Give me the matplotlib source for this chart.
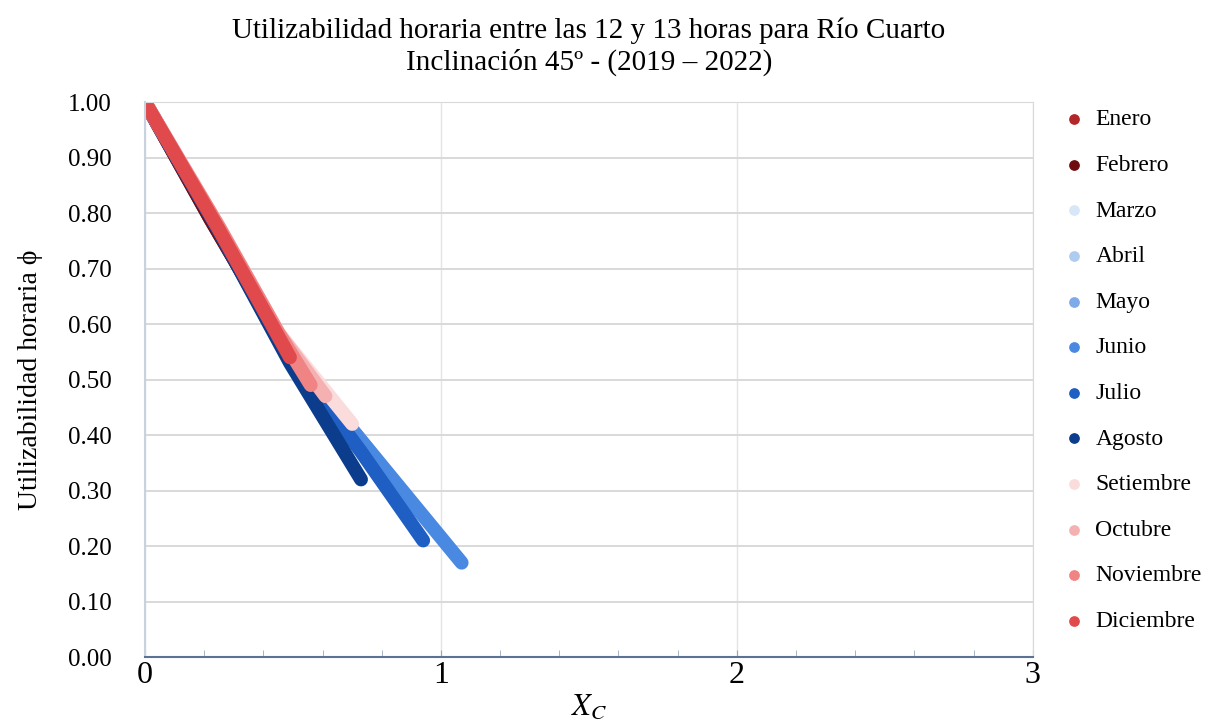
import numpy as np
import matplotlib
matplotlib.use("Agg")
import matplotlib.pyplot as plt
from matplotlib.ticker import MultipleLocator

plt.rcParams['font.family'] = ['Liberation Serif', 'DejaVu Serif']
plt.rcParams['mathtext.fontset'] = 'stix'

months = ["Enero", "Febrero", "Marzo", "Abril", "Mayo", "Junio", "Julio",
          "Agosto", "Setiembre", "Octubre", "Noviembre", "Diciembre"]
colors = ["#b3262a", "#6e0b0e", "#d8e7f8", "#aecbf0", "#7eaaea", "#4a89e2",
          "#1f5ec2", "#0b3d8c", "#fbdcdd", "#f5b1b1", "#f08383", "#e04a4c"]

# Xc and phi readings per month (points along each band)
xc = {
    "Enero":     [0.00, 0.22, 0.45],
    "Febrero":   [0.00, 0.22, 0.44],
    "Marzo":     [0.00, 0.25, 0.45, 0.60],
    "Abril":     [0.00, 0.25, 0.45, 0.62],
    "Mayo":      [0.00, 0.25, 0.45, 0.70, 0.85],
    "Junio":     [0.00, 0.25, 0.45, 0.70, 1.07],
    "Julio":     [0.00, 0.25, 0.45, 0.73, 0.94],
    "Agosto":    [0.00, 0.25, 0.49, 0.73],
    "Setiembre": [0.00, 0.25, 0.45, 0.70],
    "Octubre":   [0.00, 0.25, 0.45, 0.61],
    "Noviembre": [0.00, 0.25, 0.45, 0.56],
    "Diciembre": [0.00, 0.25, 0.49],
}
phi = {
    "Enero":     [1.00, 0.79, 0.58],
    "Febrero":   [1.00, 0.79, 0.59],
    "Marzo":     [1.00, 0.77, 0.58, 0.48],
    "Abril":     [1.00, 0.77, 0.58, 0.47],
    "Mayo":      [1.00, 0.77, 0.58, 0.41, 0.31],
    "Junio":     [1.00, 0.77, 0.58, 0.41, 0.17],
    "Julio":     [1.00, 0.768, 0.572, 0.37, 0.21],
    "Agosto":    [1.00, 0.767, 0.53, 0.32],
    "Setiembre": [1.00, 0.775, 0.585, 0.42],
    "Octubre":   [1.00, 0.775, 0.585, 0.47],
    "Noviembre": [1.00, 0.775, 0.585, 0.49],
    "Diciembre": [1.00, 0.77, 0.54],
}

fig = plt.figure(figsize=(12.08, 7.24), dpi=100)
ax = fig.add_axes([0.12, 0.0925, 0.735, 0.7665])

for m, c in zip(months, colors):
    ax.plot(xc[m], phi[m], color=c, lw=10, solid_capstyle='round',
            solid_joinstyle='round')
    # legend handle
    ax.scatter([], [], s=45, color=c, label=m)

ax.set_xlim(0, 3)
ax.set_ylim(0, 1)
ax.xaxis.set_major_locator(MultipleLocator(1))
ax.xaxis.set_minor_locator(MultipleLocator(0.2))
ax.yaxis.set_major_locator(MultipleLocator(0.1))
ax.yaxis.set_major_formatter(matplotlib.ticker.FormatStrFormatter('%.2f'))

ax.grid(True, axis='y', color='#d9d9d9', lw=1.4)
ax.grid(True, axis='x', color='#e2e5ea', lw=1.0)
ax.set_axisbelow(True)

for s in ['top', 'right']:
    ax.spines[s].set_color('#d9d9d9')
ax.spines['left'].set_color('#c9d2de')
ax.spines['left'].set_linewidth(1.5)
ax.spines['bottom'].set_color('#5b7294')
ax.spines['bottom'].set_linewidth(1.5)

ax.tick_params(axis='x', which='both', direction='in', color='#9aa8bd',
               labelsize=23, pad=3)
ax.tick_params(axis='x', which='major', length=5)
ax.tick_params(axis='x', which='minor', length=5)
ax.tick_params(axis='y', length=0, labelsize=18, pad=24)

ax.set_xlabel(r"$X_C$", fontsize=22, labelpad=2)
ax.set_ylabel("Utilizabilidad horaria ϕ", fontsize=20, labelpad=18)
ax.set_title("Utilizabilidad horaria entre las 12 y 13 horas para Río Cuarto\n"
             "Inclinación 45º - (2019 – 2022)", fontsize=21, pad=23,
             linespacing=1.25)

ax.legend(loc='upper left', bbox_to_anchor=(1.02, 1.005), frameon=False,
          fontsize=17, labelspacing=1.02, handletextpad=0.3,
          borderaxespad=0.0, handlelength=1.2)

fig.savefig("out.png", dpi=100)
